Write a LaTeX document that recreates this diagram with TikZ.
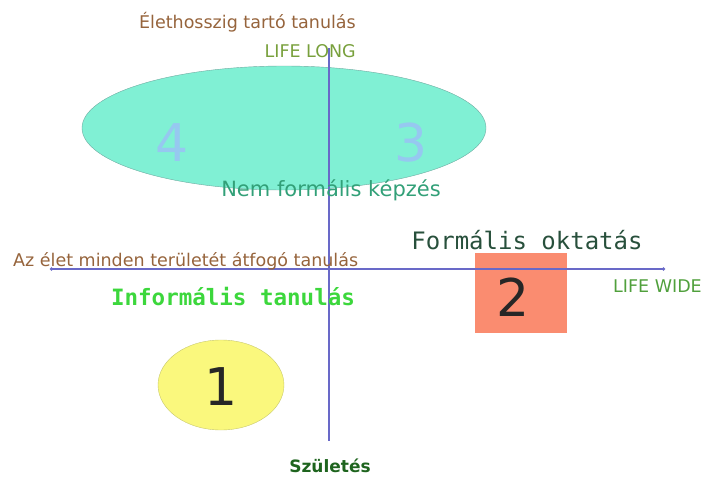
\documentclass[tikz,border=0pt]{standalone}
\usepackage{fontspec}
\setmainfont{DejaVu Sans}
\newfontfamily\monofont{DejaVu Sans Mono}
\usetikzlibrary{arrows.meta,positioning,shapes.geometric}
\definecolor{axisblue}{RGB}{105,105,200}
\definecolor{aqua}{RGB}{128,240,212}
\definecolor{aquaborder}{RGB}{110,170,160}
\definecolor{numblue}{RGB}{150,200,240}
\definecolor{salmon}{RGB}{250,140,112}
\definecolor{lemon}{RGB}{250,248,125}
\definecolor{lemonborder}{RGB}{200,200,110}
\definecolor{brownish}{RGB}{150,100,60}
\definecolor{olivegreen}{RGB}{120,160,60}
\definecolor{widegreen}{RGB}{80,160,60}
\definecolor{brightgreen}{RGB}{60,215,60}
\definecolor{darkgreen}{RGB}{40,80,60}
\definecolor{tealgreen}{RGB}{50,160,120}
\definecolor{birthgreen}{RGB}{30,100,30}

\begin{document}
\begin{tikzpicture}[
  x=1pt, y=-1pt,
  num/.style={font=\fontsize{52}{52}\selectfont},
  lbl/.style={font=\fontsize{17.5}{17.5}\selectfont, inner sep=0pt},
  axis/.style={draw=axisblue, line width=1.3pt},
]
\useasboundingbox (0,0) rectangle (705,479);

% Areas
\node[ellipse, draw=aquaborder, fill=aqua, minimum width=404pt, minimum height=124pt] (nonformal) at (284,128) {};
\node[rectangle, fill=salmon, minimum width=92pt, minimum height=80pt] (formal) at (521,293) {};
\node[ellipse, draw=lemonborder, fill=lemon, minimum width=126pt, minimum height=90pt] (informal) at (221,385) {};

% Axes
\coordinate (top) at (329,48);
\coordinate (bottom) at (329,441);
\coordinate (left) at (50,269);
\coordinate (right) at (665,269);
\draw[axis] (top) -- (bottom);
\draw[axis, {Circle[length=3pt]}-{Circle[length=3pt]}] (left) -- (right);

% Numbers
\node[num, text=numblue] (n4) at (172,143) {4};
\node[num, text=numblue] (n3) at (411,143) {3};
\node[num, text=black!85] (n2) at (513,297) {2};
\node[num, text=black!85] (n1) at (221,387) {1};

% Labels
\node[lbl, text=brownish, anchor=base east] (lifelong) at (356,28) {Élethosszig tartó tanulás};
\node[lbl, text=olivegreen, anchor=base east] (longtxt) at (356,57) {LIFE LONG};
\node[lbl, text=brownish, anchor=base west] (lifewide) at (13,266) {Az élet minden területét átfogó tanulás};
\node[lbl, text=widegreen, anchor=base east] (widetxt) at (702,292) {LIFE WIDE};
\node[font=\fontsize{21}{21}\selectfont, text=tealgreen, inner sep=0pt] (nemform) at (331,190) {Nem formális képzés};
\node[font=\monofont\bfseries\fontsize{22.5}{22.5}\selectfont, text=brightgreen, inner sep=0pt] (inform) at (233,297) {Informális tanulás};
\node[font=\monofont\fontsize{24}{24}\selectfont, text=darkgreen, inner sep=0pt] (formtxt) at (527,240) {Formális oktatás};
\node[font=\bfseries\fontsize{17}{17}\selectfont, text=birthgreen, inner sep=0pt] (birth) at (330,466) {Születés};
\end{tikzpicture}
\end{document}
